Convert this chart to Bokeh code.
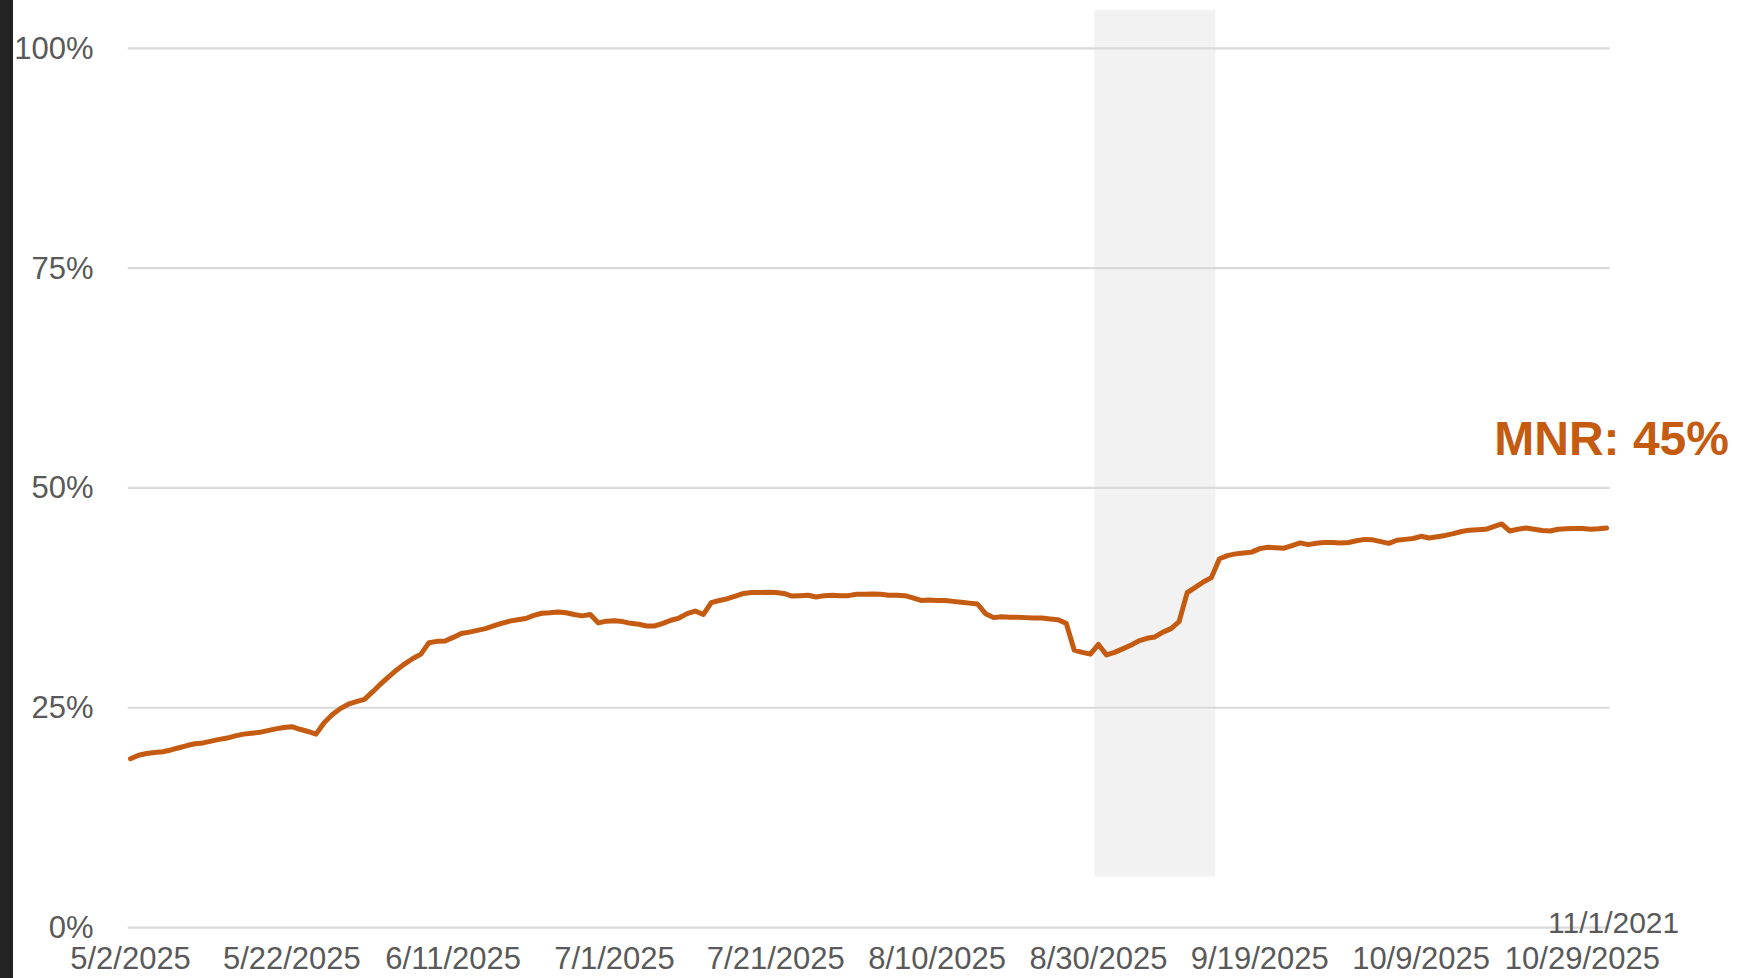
import pandas as pd
from bokeh.plotting import figure
from bokeh.models import Range1d, FixedTicker, BoxAnnotation, Label, ColumnDataSource, InlineStyleSheet
from bokeh.embed import file_html
from bokeh.resources import INLINE

# ---------------- data ----------------
start_date = "2025-05-02"
mnr_values = [
    19.2, 19.6, 19.8, 19.9, 20.0, 20.2, 20.45, 20.7, 20.9, 21.0,
    21.2, 21.4, 21.55, 21.8, 22.0, 22.1, 22.2, 22.4, 22.6, 22.75,
    22.85, 22.55, 22.3, 22.0, 23.3, 24.2, 24.9, 25.4, 25.7, 25.95,
    26.8, 27.7, 28.5, 29.3, 30.0, 30.6, 31.1, 32.4, 32.55, 32.6,
    33.0, 33.45, 33.6, 33.8, 34.0, 34.3, 34.6, 34.85, 35.0, 35.15,
    35.5, 35.75, 35.8, 35.9, 35.8, 35.6, 35.45, 35.6, 34.65, 34.85,
    34.9, 34.8, 34.6, 34.5, 34.3, 34.3, 34.6, 34.95, 35.2, 35.7,
    36.0, 35.6, 36.95, 37.2, 37.4, 37.7, 38.0, 38.1, 38.1, 38.15,
    38.1, 38.0, 37.7, 37.75, 37.8, 37.6, 37.75, 37.8, 37.75, 37.75,
    37.9, 37.9, 37.95, 37.9, 37.8, 37.8, 37.75, 37.5, 37.2, 37.25,
    37.2, 37.2, 37.1, 37.0, 36.9, 36.8, 35.7, 35.25, 35.35, 35.3,
    35.3, 35.25, 35.2, 35.2, 35.1, 35.0, 34.6, 31.55, 31.3, 31.1,
    32.2, 31.0, 31.3, 31.7, 32.1, 32.6, 32.9, 33.05, 33.6, 34.0,
    34.8, 38.1, 38.7, 39.3, 39.8, 41.95, 42.3, 42.5, 42.6, 42.7,
    43.1, 43.25, 43.2, 43.15, 43.45, 43.75, 43.55, 43.7, 43.8, 43.8,
    43.75, 43.8, 44.0, 44.15, 44.1, 43.9, 43.7, 44.05, 44.15, 44.25,
    44.5, 44.3, 44.45, 44.6, 44.8, 45.05, 45.2, 45.25, 45.3, 45.6,
    45.9, 45.1, 45.3, 45.45, 45.3, 45.15, 45.1, 45.3, 45.35, 45.4,
    45.4, 45.3, 45.35, 45.45,
]
x_tick_dates = ["2025-05-02", "2025-05-22", "2025-06-11", "2025-07-01", "2025-07-21",
                "2025-08-10", "2025-08-30", "2025-09-19", "2025-10-09", "2025-10-29"]
x_tick_labels = ["5/2/2025", "5/22/2025", "6/11/2025", "7/1/2025", "7/21/2025",
                 "8/10/2025", "8/30/2025", "9/19/2025", "10/9/2025", "10/29/2025"]
y_ticks = [0, 25, 50, 75, 100]
y_tick_labels = ["0%", "25%", "50%", "75%", "100%"]
shade_start = "2025-08-29 12:00"
shade_end = "2025-09-13 12:00"
shade_bottom = 5.8
series_label = "MNR: 45%"
corner_label = "11/1/2021"

# ---------------- styling / layout ----------------
LINE = "#C55A11"
TXT = "#595959"
GRID = "#D9D9D9"
FONT = "Liberation Sans"

dates = pd.date_range(start_date, periods=len(mnr_values), freq="D")
src = ColumnDataSource(data=dict(date=dates, value=mnr_values))

x_start = pd.Timestamp("2025-05-01 15:00")
x_end = pd.Timestamp("2025-11-19 08:00")
grid_end = dates[-1] + pd.Timedelta(hours=9)

p = figure(width=1754, height=978, x_axis_type="datetime",
           x_range=Range1d(x_start.to_pydatetime(), x_end.to_pydatetime()),
           y_range=Range1d(-1.247, 104.42),
           output_backend="svg", toolbar_location=None,
           min_border_left=127, min_border_right=0,
           min_border_top=9, min_border_bottom=37)
p.outline_line_color = None
p.background_fill_color = "white"
p.border_fill_color = "white"
# dark strip at the far left edge of the picture
p.stylesheets = [InlineStyleSheet(css=(
    ":host::before { content: ''; position: absolute; left: 0px; top: 0px; "
    "width: 13px; height: 978px; background: #232323; z-index: 100; }"))]

shade = BoxAnnotation(left=pd.Timestamp(shade_start).to_pydatetime(),
                      right=pd.Timestamp(shade_end).to_pydatetime(),
                      bottom=shade_bottom,
                      fill_color="#F2F2F2", fill_alpha=1.0, line_color=None, level="underlay")
p.add_layout(shade)

# horizontal gridlines (stop at the end of the data, like the original)
p.segment(x0=[x_start] * len(y_ticks), x1=[grid_end] * len(y_ticks),
          y0=y_ticks, y1=y_ticks, line_color=GRID, line_width=2.2)

p.line("date", "value", source=src, line_color=LINE, line_width=5,
       line_join="round", line_cap="round")

# axes
tick_ms = [int(pd.Timestamp(d).value // 10**6) for d in x_tick_dates]
p.xaxis.ticker = FixedTicker(ticks=tick_ms)
p.xaxis.major_label_overrides = {t: l for t, l in zip(tick_ms, x_tick_labels)}
p.yaxis.ticker = FixedTicker(ticks=y_ticks)
p.yaxis.major_label_overrides = {t: l for t, l in zip(y_ticks, y_tick_labels)}

for ax in (p.xaxis, p.yaxis):
    ax.axis_line_color = None
    ax.major_tick_line_color = None
    ax.minor_tick_line_color = None
    ax.major_tick_out = 0
    ax.major_tick_in = 0
    ax.major_label_text_color = TXT
    ax.major_label_text_font = FONT
    ax.major_label_text_font_size = "31px"
p.xaxis.major_label_standoff = 2
p.yaxis.major_label_standoff = 34

p.xgrid.grid_line_color = None
p.ygrid.grid_line_color = None

last_date = dates[-1].to_pydatetime()
p.add_layout(Label(x=last_date, y=mnr_values[-1], text=series_label,
                   x_offset=5, y_offset=89, text_align="center", text_baseline="alphabetic",
                   text_color=LINE, text_font=FONT, text_font_size="48px",
                   text_font_style="bold"))
p.add_layout(Label(x=last_date, y=0, text=corner_label,
                   x_offset=7, y_offset=5, text_align="center", text_baseline="alphabetic",
                   text_color=TXT, text_font=FONT, text_font_size="30px"))

open("out.html", "w").write(file_html(p, INLINE))
